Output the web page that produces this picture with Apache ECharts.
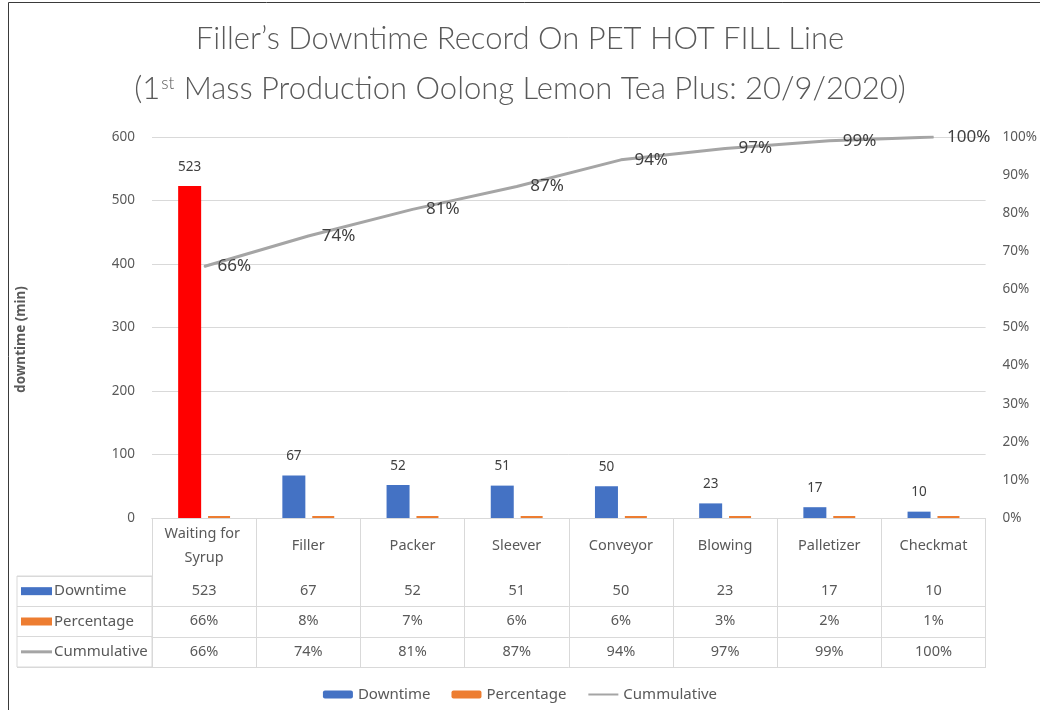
<!DOCTYPE html>
<html>
<head>
<meta charset="utf-8">
<title>Filler's Downtime Record</title>
<script src="https://cdn.jsdelivr.net/npm/echarts@6/dist/echarts.min.js"></script>
<style>
  html, body { margin: 0; padding: 0; background: #ffffff; }
  #chart { width: 1040px; height: 710px; }
</style>
</head>
<body>
<div id="chart"></div>
<script>
// Downtime per station, 1st mass production run
const categories = ['Waiting for Syrup', 'Filler', 'Packer', 'Sleever', 'Conveyor', 'Blowing', 'Palletizer', 'Checkmat'];
const downtime   = [523, 67, 52, 51, 50, 23, 17, 10];      // minutes
const percentage = [66, 8, 7, 6, 6, 3, 2, 1];               // share of total, %
const cumulative = [66, 74, 81, 87, 94, 97, 99, 100];       // running share, %
const rowNames   = ['Downtime', 'Percentage', 'Cummulative'];

const BLUE = '#4472c4', ORANGE = '#ed7d31', GRAY = '#a5a5a5', RED = '#ff0000';
const TXT = '#595959', GRID_LINE = '#d9d9d9';
const FONT = 'Noto Sans';

const chart = echarts.init(document.getElementById('chart'), null, { renderer: 'canvas' });

// one category axis per table row, stacked under the plot; its line is the row border
function rowAxis(offset, formatter) {
  return {
    type: 'category', gridIndex: 0, data: categories, position: 'bottom', offset: offset,
    axisLine: { show: true, lineStyle: { color: GRID_LINE, width: 1 } },
    axisTick: { show: false },
    axisLabel: formatter ? {
      show: true, interval: 0, margin: 15, verticalAlign: 'middle',
      color: TXT, fontSize: 14.5, fontFamily: FONT, formatter: formatter
    } : { show: false },
    splitLine: { show: false }
  };
}

const option = {
  backgroundColor: '#ffffff',
  animation: false,
  title: {
    text: 'Filler’s Downtime Record On PET HOT FILL Line\n(1{sup|st} Mass Production Oolong Lemon Tea Plus: 20/9/2020)',
    left: 'center', top: 9,
    textStyle: {
      fontFamily: 'Lato', fontSize: 31, fontWeight: 300, color: TXT, lineHeight: 50,
      rich: {
        sup: { fontFamily: 'Lato', fontSize: 17, fontWeight: 300, color: TXT, verticalAlign: 'top', padding: [11, 1, 0, 1] }
      }
    }
  },
  legend: {
    data: [
      'Downtime',
      'Percentage',
      { name: 'Cummulative', itemStyle: { opacity: 0 } }
    ],
    left: 'center', top: 682,
    itemWidth: 30, itemHeight: 8, itemGap: 21,
    textStyle: { color: TXT, fontSize: 15, fontFamily: FONT }
  },
  grid: [
    { left: 152, right: 54, top: 137, bottom: 192, containLabel: false },
    // row-name column of the data table
    { left: 17, top: 576, width: 135, height: 91, show: true, borderColor: GRID_LINE, borderWidth: 1, backgroundColor: 'transparent' }
  ],
  xAxis: [
    {
      type: 'category', gridIndex: 0, data: categories, position: 'bottom',
      axisLine: { show: true, lineStyle: { color: GRID_LINE } },
      axisTick: { show: true, length: 149, lineStyle: { color: GRID_LINE } },
      axisLabel: {
        interval: 0, margin: 28, verticalAlign: 'middle', color: TXT, fontSize: 14.5, fontFamily: FONT,
        width: 92, overflow: 'break', lineHeight: 24
      }
    },
    rowAxis(58, (v, i) => String(downtime[i])),
    rowAxis(88, (v, i) => percentage[i] + '%'),
    rowAxis(119, (v, i) => cumulative[i] + '%'),
    rowAxis(149, null),
    {
      type: 'category', gridIndex: 1, data: [''],
      axisLine: { show: false }, axisTick: { show: false }, axisLabel: { show: false }
    }
  ],
  yAxis: [
    {
      type: 'value', gridIndex: 0, min: 0, max: 600, interval: 100,
      name: 'downtime (min)', nameLocation: 'middle', nameGap: 124, nameRotate: 90,
      nameTextStyle: { color: TXT, fontSize: 13.5, fontWeight: 'bold', fontFamily: FONT, padding: [0, 24, 0, 0] },
      axisLine: { show: false }, axisTick: { show: false },
      axisLabel: { color: TXT, fontSize: 13.5, fontFamily: FONT, margin: 17 },
      splitLine: { show: true, lineStyle: { color: GRID_LINE, width: 1 } }
    },
    {
      type: 'value', gridIndex: 0, min: 0, max: 100, interval: 10, position: 'right',
      axisLine: { show: false }, axisTick: { show: false },
      axisLabel: { color: TXT, fontSize: 13.5, fontFamily: FONT, margin: 17, formatter: '{value}%' },
      splitLine: { show: false }
    },
    {
      type: 'category', gridIndex: 1, data: rowNames, inverse: true,
      axisLine: { show: false }, axisTick: { show: false },
      splitLine: { show: true, interval: 0, lineStyle: { color: GRID_LINE } },
      axisLabel: {
        inside: true, margin: 4, interval: 0, color: TXT, fontSize: 15, fontFamily: FONT,
        formatter: function (v) {
          const key = v === 'Downtime' ? 'bar' : (v === 'Percentage' ? 'pct' : 'cum');
          return '{' + key + '|}{t|' + v + '}';
        },
        rich: {
          bar: { backgroundColor: BLUE, width: 31, height: 8 },
          pct: { backgroundColor: ORANGE, width: 31, height: 8 },
          cum: { backgroundColor: GRAY, width: 31, height: 3 },
          t: { color: TXT, fontSize: 15, fontFamily: FONT, padding: [0, 0, 0, 2] }
        }
      }
    }
  ],
  series: [
    {
      name: 'Downtime', type: 'bar', xAxisIndex: 0, yAxisIndex: 0,
      barWidth: 23, barGap: '30%',
      itemStyle: { color: BLUE },
      data: downtime.map((v, i) => i === 0 ? { value: v, itemStyle: { color: RED } } : v),
      label: { show: true, position: 'top', distance: 12, color: '#404040', fontSize: 13.5, fontFamily: FONT },
      z: 2
    },
    {
      name: 'Percentage', type: 'bar', xAxisIndex: 0, yAxisIndex: 0,
      barWidth: 22, barMinHeight: 2,
      itemStyle: { color: ORANGE },
      data: percentage.map(p => p / 100),
      z: 2
    },
    {
      name: 'Cummulative', type: 'line', xAxisIndex: 0, yAxisIndex: 1,
      data: cumulative,
      symbol: 'circle', symbolSize: 1, showSymbol: true,
      lineStyle: { color: GRAY, width: 3 },
      itemStyle: { color: GRAY },
      label: {
        show: true, position: 'right', distance: 13, color: '#404040', fontSize: 17, fontFamily: FONT,
        formatter: '{c}%'
      },
      z: 5
    }
  ],
  graphic: [
    {
      type: 'rect', silent: true, z: 100,
      shape: { x: 8.5, y: 2.5, width: 1040, height: 720 },
      style: { fill: 'none', stroke: '#3a3a3a', lineWidth: 1 }
    }
  ]
};

chart.setOption(option);
</script>
</body>
</html>
